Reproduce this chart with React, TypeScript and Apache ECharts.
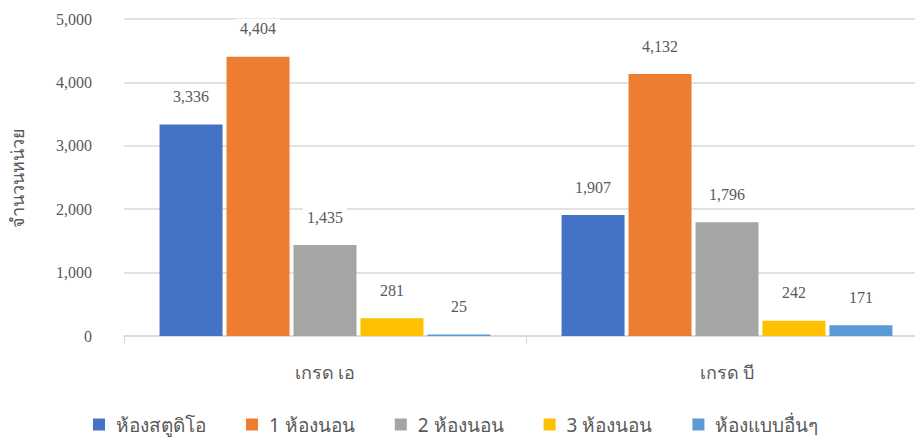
import React, { useEffect, useRef } from "react";
import * as echarts from "echarts";

const categories = ["เกรด เอ", "เกรด บี"];
const seriesNames = ["ห้องสตูดิโอ", "1 ห้องนอน", "2 ห้องนอน", "3 ห้องนอน", "ห้องแบบอื่นๆ"];
const studio = [3336, 1907];
const oneBed = [4404, 4132];
const twoBed = [1435, 1796];
const threeBed = [281, 242];
const other = [25, 171];
const colors = ["#4472c4", "#ed7d31", "#a5a5a5", "#ffc000", "#5b9bd5"];
const yTitle = "จำนวนหน่วย";

const serif = "'Liberation Serif', 'Times New Roman', serif";
const thai = "'Noto Sans', 'DejaVu Sans', sans-serif";

export default function App() {
  const ref = useRef<HTMLDivElement>(null);
  useEffect(() => {
    if (!ref.current) return;
    const chart = echarts.init(ref.current, undefined, { renderer: "svg" });
    const data = [studio, oneBed, twoBed, threeBed, other];
    chart.setOption({
      animation: false,
      backgroundColor: "#ffffff",
      color: colors,
      grid: { left: 124, width: 804, top: 19, bottom: 103, outerBoundsMode: "none", containLabel: false },
      legend: {
        bottom: 0,
        left: 88,
        itemWidth: 12,
        itemHeight: 12,
        itemGap: 40,
        icon: "rect",
        textStyle: { color: "#595959", fontSize: 19, fontFamily: thai, padding: [0, 0, 0, 6] },
        data: seriesNames,
      },
      xAxis: {
        type: "category",
        data: categories,
        axisLine: { lineStyle: { color: "#d9d9d9", width: 1.5 } },
        axisTick: { show: true, length: 8, lineStyle: { color: "#d9d9d9" } },
        axisLabel: { color: "#595959", fontSize: 18, fontFamily: thai, margin: 27 },
      },
      yAxis: {
        type: "value",
        min: 0,
        max: 5000,
        interval: 1000,
        name: yTitle,
        nameLocation: "middle",
        nameGap: 98,
        nameRotate: 90,
        nameTextStyle: { color: "#595959", fontSize: 18, fontFamily: thai },
        axisLine: { show: false },
        axisTick: { show: false },
        splitLine: { lineStyle: { color: "#d9d9d9", width: 1.5 } },
        axisLabel: {
          color: "#595959",
          fontSize: 16,
          fontFamily: serif,
          margin: 32,
          formatter: (v: number) => v.toLocaleString("en-US"),
        },
      },
      series: seriesNames.map((name, i) => ({
        name,
        type: "bar",
        data: data[i],
        barWidth: 63,
        barGap: "6.3%",
        itemStyle: { color: colors[i] },
        label: {
          show: true,
          position: "top",
          distance: 18,
          color: "#595959",
          fontSize: 16,
          fontFamily: serif,
          backgroundColor: "#ffffff",
          padding: [2, 4],
          formatter: (p: any) => Number(p.value).toLocaleString("en-US"),
        },
      })),
    });
    return () => chart.dispose();
  }, []);
  return <div ref={ref} style={{ width: 915, height: 439, position: "absolute", left: 0, top: 0 }} />;
}
